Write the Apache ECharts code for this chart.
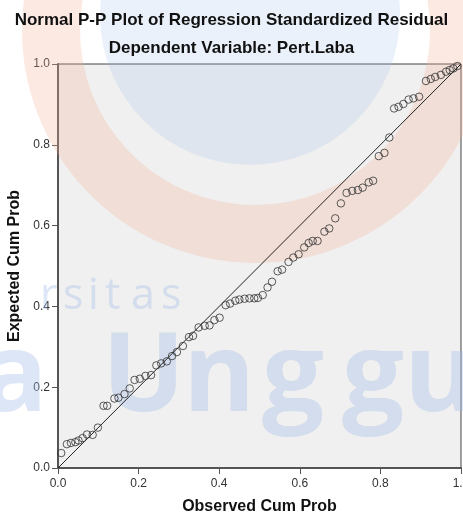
<!DOCTYPE html>
<html>
<head>
<meta charset="utf-8">
<script src="https://cdn.jsdelivr.net/npm/echarts@6/dist/echarts.min.js"></script>
<style>
  html, body { margin: 0; padding: 0; background: #fff; }
  #chart { width: 463px; height: 517px; }
</style>
</head>
<body>
<div id="chart"></div>
<script>
// observed vs expected cumulative probability
const observed = [
  0.008, 0.022, 0.032, 0.043, 0.051, 0.061, 0.072, 0.086, 0.099, 0.113,
  0.122, 0.140, 0.150, 0.165, 0.178, 0.190, 0.203, 0.217, 0.231, 0.244,
  0.256, 0.270, 0.283, 0.295, 0.310, 0.325, 0.335, 0.349, 0.364, 0.376,
  0.388, 0.401, 0.416, 0.427, 0.440, 0.450, 0.463, 0.475, 0.487, 0.496,
  0.508, 0.520, 0.531, 0.545, 0.556, 0.572, 0.584, 0.597, 0.611, 0.622,
  0.632, 0.644, 0.661, 0.673, 0.688, 0.702, 0.716, 0.730, 0.744, 0.756,
  0.771, 0.782, 0.796, 0.810, 0.822, 0.834, 0.845, 0.857, 0.870, 0.882,
  0.896, 0.913, 0.925, 0.936, 0.950, 0.963, 0.972, 0.981, 0.991
]
const expected = [
  0.037, 0.059, 0.062, 0.064, 0.068, 0.074, 0.083, 0.082, 0.100, 0.154,
  0.154, 0.172, 0.174, 0.183, 0.197, 0.218, 0.221, 0.228, 0.230, 0.254,
  0.259, 0.264, 0.277, 0.287, 0.302, 0.324, 0.327, 0.348, 0.352, 0.353,
  0.366, 0.372, 0.403, 0.407, 0.414, 0.417, 0.419, 0.420, 0.420, 0.421,
  0.428, 0.447, 0.461, 0.487, 0.491, 0.510, 0.521, 0.529, 0.546, 0.557,
  0.562, 0.562, 0.585, 0.593, 0.618, 0.655, 0.681, 0.686, 0.688, 0.694,
  0.707, 0.711, 0.772, 0.780, 0.818, 0.890, 0.894, 0.901, 0.912, 0.915,
  0.919, 0.958, 0.963, 0.968, 0.973, 0.981, 0.985, 0.989, 0.995
]
const refLine = [[0, 0], [1, 1]]
const ticks = [0, 0.2, 0.4, 0.6, 0.8, 1.0]

const chart = echarts.init(document.getElementById('chart'), null, { renderer: 'canvas' })

const wmBlue = 'rgba(165,190,232,0.38)'

// watermark letters, placed one by one since the logo text is letter-spaced
function wmLetters(chars, xs, y, font) {
  return chars.map((c, i) => ({
    type: 'text', z: 1, silent: true, x: xs[i], y: y,
    style: { text: c, fill: wmBlue, font: font, verticalAlign: 'middle' }
  }))
}

const axisCommon = {
  type: 'value',
  min: ticks[0],
  max: ticks[ticks.length - 1],
  interval: 0.2,
  nameLocation: 'middle',
  nameTextStyle: { color: '#111', fontSize: 16, fontWeight: 'bold', fontFamily: 'Liberation Sans' },
  axisLine: { show: true, lineStyle: { color: '#555', width: 2 } },
  axisTick: { show: true, length: 6, lineStyle: { color: '#555', width: 1 } },
  axisLabel: {
    color: '#333',
    fontSize: 12,
    fontFamily: 'Liberation Sans',
    formatter: v => v.toFixed(1)
  },
  splitLine: { show: false }
}

chart.setOption({
  backgroundColor: '#fff',
  animation: false,
  title: {
    text: 'Normal P-P Plot of Regression Standardized Residual',
    subtext: 'Dependent Variable: Pert.Laba',
    left: 'center',
    top: 7,
    itemGap: 11,
    textStyle: { color: '#111', fontSize: 17, fontWeight: 'bold', fontFamily: 'Liberation Sans' },
    subtextStyle: { color: '#111', fontSize: 17, fontWeight: 'bold', fontFamily: 'Liberation Sans' }
  },
  grid: {
    left: 58,
    right: 2,
    top: 64,
    bottom: 49,
    outerBoundsMode: 'none',
    containLabel: false,
    show: true,
    backgroundColor: '#f0f0f0',
    borderColor: '#444',
    borderWidth: 1
  },
  // faint university watermark sitting behind the marks
  graphic: [
    {
      type: 'circle', z: 1, silent: true,
      shape: { cx: 250, cy: 15, r: 150 },
      style: { fill: 'rgba(165,190,232,0.22)' }
    },
    {
      type: 'arc', z: 1, silent: true,
      shape: { cx: 255, cy: 30, r: 204, startAngle: -Math.PI * 0.12, endAngle: Math.PI * 1.12 },
      style: { stroke: 'rgba(245,175,150,0.28)', lineWidth: 58, fill: null }
    }
  ]
    .concat(wmLetters(['r', 's', 'i', 't', 'a', 's'], [40, 63, 88, 105, 131, 161], 297, '43px "Open Sans"'))
    .concat(wmLetters(['Esa'], [-135], 380, 'bold 110px "Open Sans"'))
    .concat(wmLetters(['U', 'n', 'g', 'g', 'u'], [102, 183, 262, 342, 404], 380, 'bold 110px "Open Sans"')),
  xAxis: Object.assign({}, axisCommon, {
    name: 'Observed Cum Prob',
    nameGap: 31,
    axisLabel: Object.assign({}, axisCommon.axisLabel, { margin: 10 })
  }),
  yAxis: Object.assign({}, axisCommon, { name: 'Expected Cum Prob', nameGap: 29 }),
  series: [
    {
      type: 'line',
      data: refLine,
      symbol: 'none',
      z: 3,
      lineStyle: { color: '#222', width: 1 }
    },
    {
      type: 'scatter',
      data: observed.map((x, i) => [x, expected[i]]),
      symbol: 'circle',
      symbolSize: 7.5,
      z: 4,
      itemStyle: { color: 'rgba(0,0,0,0)', borderColor: '#333', borderWidth: 1 }
    }
  ]
})
</script>
</body>
</html>
